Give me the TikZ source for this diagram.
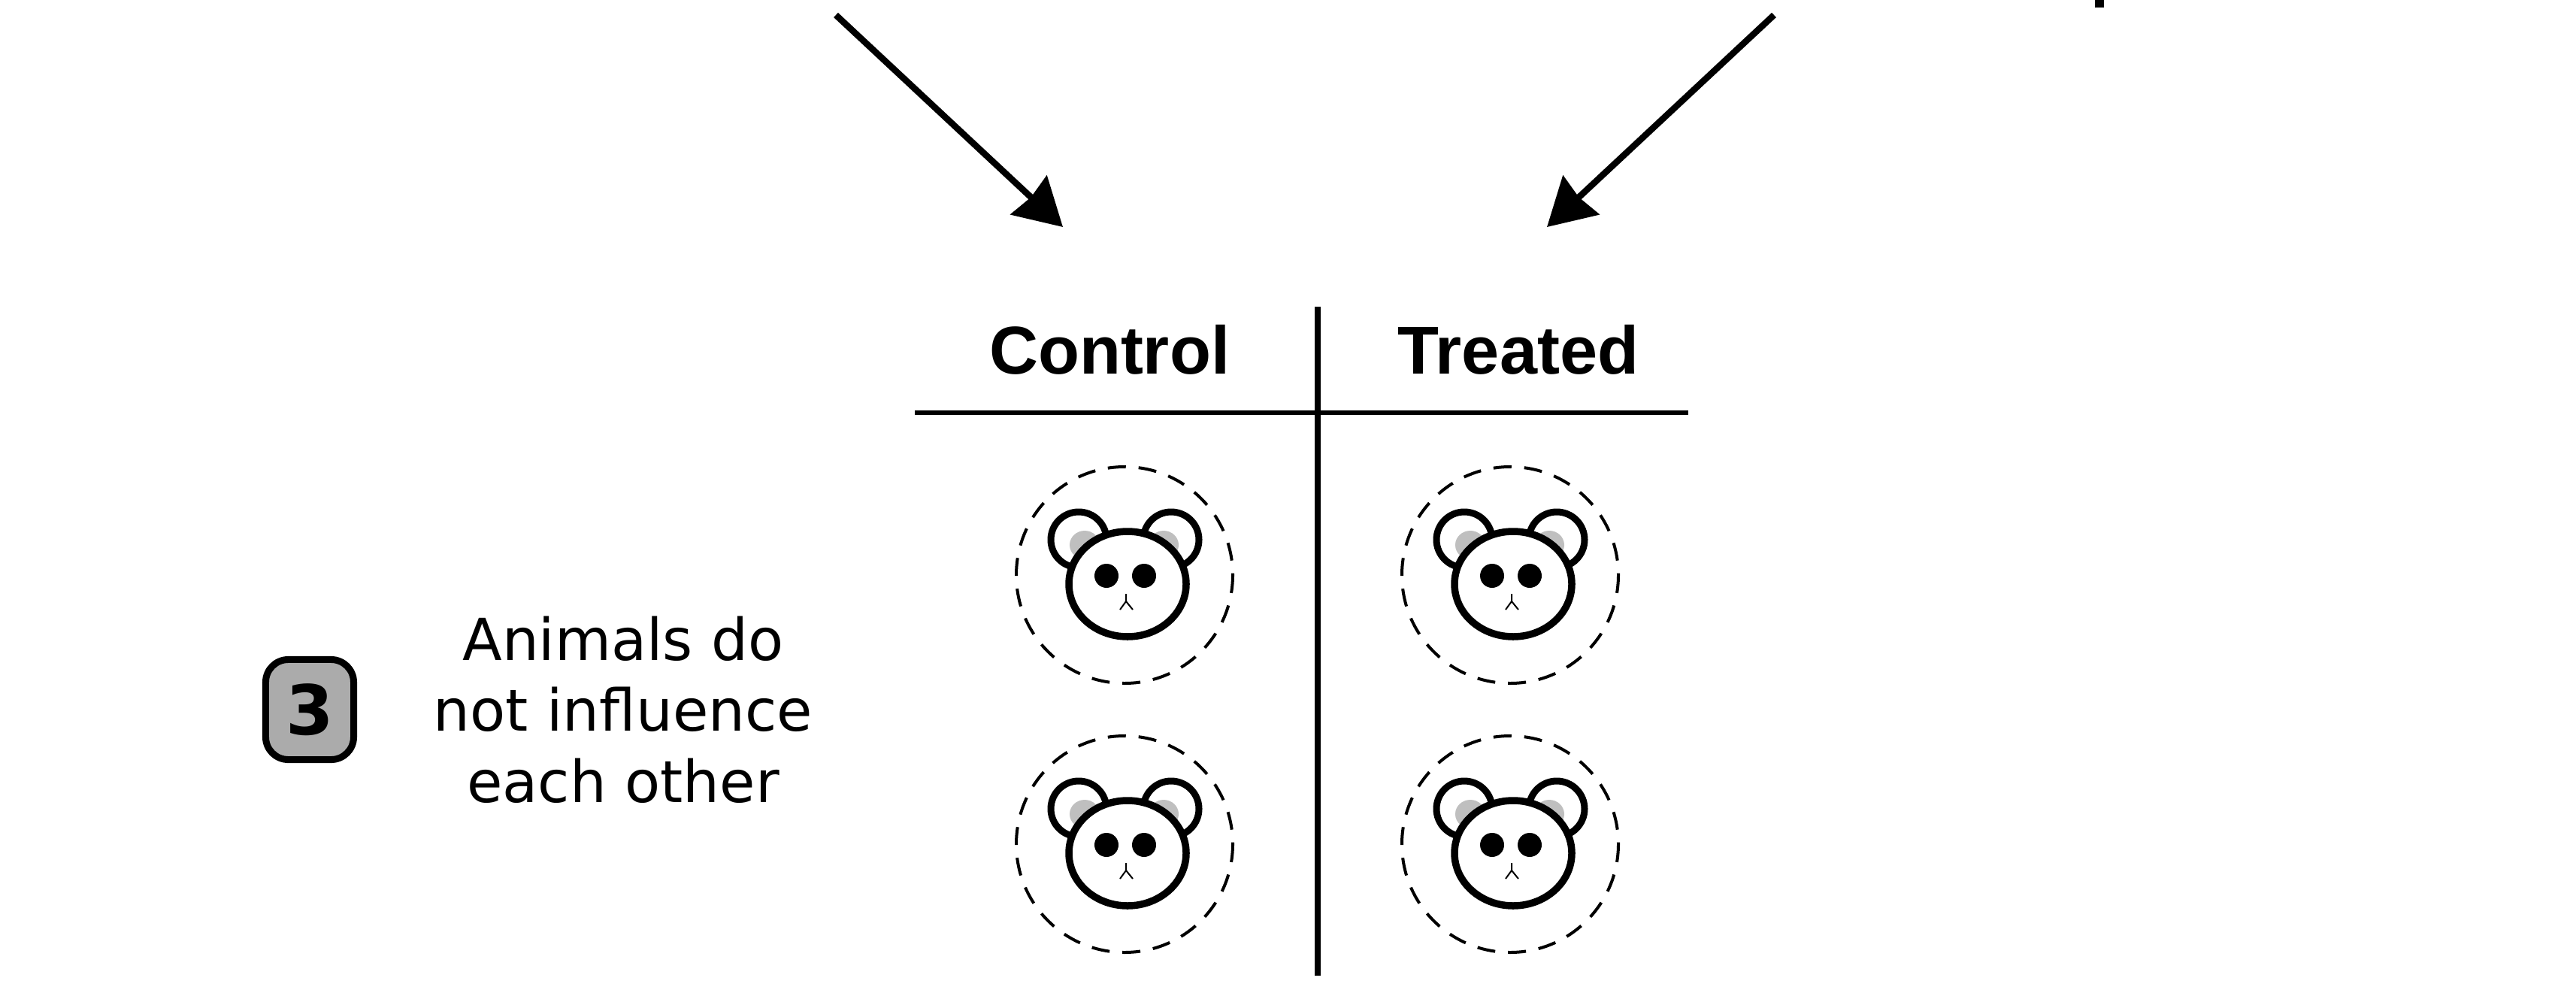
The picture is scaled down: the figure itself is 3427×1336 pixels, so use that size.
\documentclass[tikz,border=0pt]{standalone}
\usepackage{fontspec}
\setmainfont{DejaVu Sans}
\newfontfamily\headfont{Liberation Sans}
\usetikzlibrary{positioning}
\usetikzlibrary{arrows.meta}
\tikzset{>={Stealth[length=0.62cm,width=0.7cm,inset=0.04cm]}}
\tikzset{ar/.style={->,line width=0.085cm}}
\tikzset{hd/.style={font=\headfont\bfseries\fontsize{25.6}{30}\selectfont,inner sep=0pt,anchor=base}}
\tikzset{rule/.style={line width=0.06cm}}
\tikzset{badge/.style={draw,line width=0.09cm,fill=black!33,rounded corners=0.3cm,minimum width=1.17cm,minimum height=1.33cm,inner sep=0pt,font=\bfseries\fontsize{26}{30}\selectfont}}
\tikzset{note/.style={align=center,inner sep=0pt,font=\fontsize{21.9}{26.9}\selectfont}}
\tikzset{mouse/.pic={
\draw[dashed,dash pattern=on 0.24cm off 0.17cm,line width=0.04cm] (-1,0) circle [radius=144];
\draw[fill=white,line width=0.09cm] (-62,-47) circle [radius=37];
\draw[fill=white,line width=0.09cm] (61,-47) circle [radius=37];
\fill[black!25] (-54,-40) circle [x radius=20,y radius=19];
\fill[black!25] (51,-40) circle [x radius=20,y radius=19];
\draw[fill=white,line width=0.095cm] (3,12) circle [x radius=78,y radius=70];
\fill (-25,1) circle [radius=16];
\fill (25,1) circle [radius=16];
\draw[line width=0.02cm] (1,25) -- (1,35) -- (-7,46) (1,35) -- (10,46);
}}
\begin{document}
\begin{tikzpicture}[x=0.01cm,y=-0.01cm]
\useasboundingbox (0,0) rectangle (3427,1336);

\coordinate (A1) at (1112,20);
\coordinate (A1') at (1414,302);
\coordinate (A2) at (2360,20);
\coordinate (A2') at (2058,302);
\draw[ar] (A1) -- (A1');
\draw[ar] (A2) -- (A2');
\fill (2787,0) rectangle (2799,10);

\node[hd] (control) at (1476,497) {Control};
\node[hd] (treated) at (2020,497) {Treated};

\coordinate (VT) at (1753,408);
\coordinate (VB) at (1753,1298);
\coordinate (HL) at (1217,549);
\coordinate (HR) at (2246,549);
\draw[rule] (HL) -- (HR);
\draw[line width=0.08cm] (VT) -- (VB);

\pic at (1497,765) {mouse};
\pic at (2010,765) {mouse};
\pic at (1497,1123) {mouse};
\pic at (2010,1123) {mouse};

\node[badge] (three) at (412,944) {3};
\node[note] (text) at (829,944) {Animals do\\not influence\\each other};
\end{tikzpicture}
\end{document}
